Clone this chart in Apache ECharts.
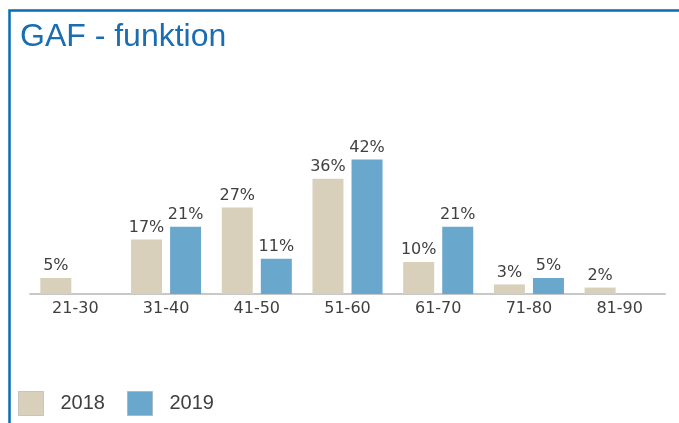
<!DOCTYPE html>
<html>
<head>
<meta charset="utf-8">
<script src="https://cdn.jsdelivr.net/npm/echarts@6/dist/echarts.min.js"></script>
<style>
  html, body { margin: 0; padding: 0; background: #fff; }
  #chart { width: 679px; height: 423px; }
</style>
</head>
<body>
<div id="chart"></div>
<script>
const categories = ['21-30', '31-40', '41-50', '51-60', '61-70', '71-80', '81-90']
const values2018 = [5, 17, 27, 36, 10, 3, 2]
const values2019 = [null, 21, 11, 42, 21, 5, null]

const labelStyle = {
  show: true,
  position: 'top',
  distance: 4,
  formatter: '{c}%',
  color: '#404040',
  fontFamily: 'DejaVu Sans',
  fontSize: 16
}

const chart = echarts.init(document.getElementById('chart'))

const option = {
  animation: false,
  title: {
    text: 'GAF - funktion',
    left: 15,
    top: 16,
    textStyle: {
      color: '#1a6db0',
      fontFamily: 'Liberation Sans',
      fontWeight: 'normal',
      fontSize: 32
    }
  },
  legend: {
    left: 18,
    top: 391,
    padding: 0,
    itemWidth: 25,
    itemHeight: 24,
    itemGap: 22,
    icon: 'rect',
    itemStyle: {
      borderColor: '#a0a0a0',
      borderWidth: 1,
      borderType: 'dotted'
    },
    textStyle: {
      color: '#404040',
      fontFamily: 'Liberation Sans',
      fontSize: 20,
      padding: [0, 0, 0, 12]
    }
  },
  grid: {
    left: 30,
    right: 14,
    top: 134,
    bottom: 129
  },
  xAxis: {
    type: 'category',
    data: categories,
    axisTick: { show: false },
    axisLine: { lineStyle: { color: '#c8c8c8', width: 2 } },
    axisLabel: {
      color: '#404040',
      fontFamily: 'DejaVu Sans',
      fontSize: 16,
      margin: 7
    }
  },
  yAxis: {
    type: 'value',
    min: 0,
    max: 50,
    show: false,
    splitLine: { show: false }
  },
  series: [
    {
      name: '2018',
      type: 'bar',
      data: values2018,
      barWidth: 31,
      barGap: '26%',
      itemStyle: { color: '#d9d0bb' },
      label: labelStyle
    },
    {
      name: '2019',
      type: 'bar',
      data: values2019,
      barWidth: 31,
      itemStyle: { color: '#6aa7cd' },
      label: labelStyle
    }
  ],
  graphic: [
    {
      type: 'polyline',
      shape: { points: [[9.5, 423], [9.5, 10.5], [679, 10.5]] },
      style: { stroke: '#0a6db3', lineWidth: 2.5, fill: null }
    }
  ]
}

chart.setOption(option)
</script>
</body>
</html>
